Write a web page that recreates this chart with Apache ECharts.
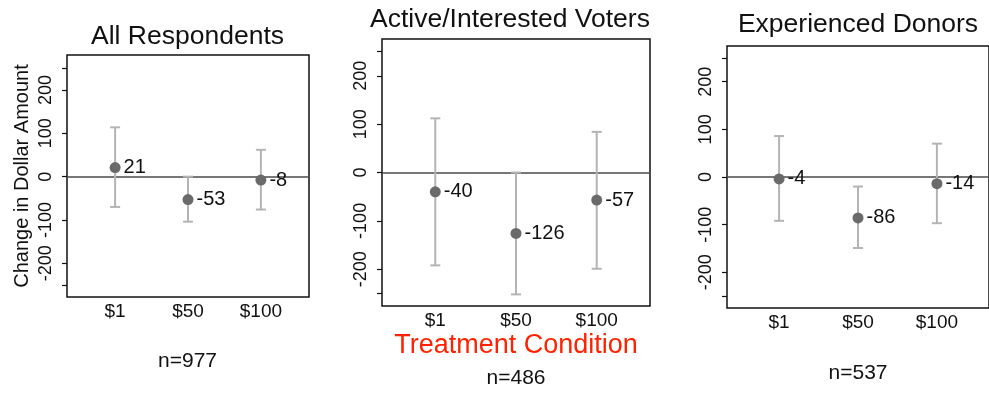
<!DOCTYPE html>
<html>
<head>
<meta charset="utf-8">
<title>Change in Dollar Amount by Treatment Condition</title>
<script src="https://cdn.jsdelivr.net/npm/echarts@6/dist/echarts.min.js"></script>
<style>
  html, body { margin: 0; padding: 0; background: #fff; }
  #main { width: 989px; height: 393px; }
</style>
</head>
<body>
<div id="main"></div>
<script>
// categories and tick labels
var categories = ['$1', '$50', '$100'];
var yTicks = [-250, -200, -100, 0, 100, 200, 250];
var yTickLabels = [-200, -100, 0, 100, 200];

// panel titles and sample sizes
var panelTitles = ['All Respondents', 'Active/Interested Voters', 'Experienced Donors'];
var sampleSizes = ['n=977', 'n=486', 'n=537'];

// estimates with confidence intervals
var allEst = [21, -53, -8];
var allLow = [-70, -104, -76];
var allHigh = [114, 0, 62];

var voterEst = [-40, -126, -57];
var voterLow = [-192, -252, -199];
var voterHigh = [112, 0, 84];

var donorEst = [-4, -86, -14];
var donorLow = [-92, -149, -97];
var donorHigh = [86, -20, 70];

var FONT = 'Liberation Sans, Arial, Helvetica, sans-serif';

// grid boxes, one per panel
var grids = [
  {left: 67, top: 55, width: 242, height: 242},
  {left: 382, top: 39, width: 268, height: 267},
  {left: 727, top: 46, width: 263, height: 262}
];
var yRanges = [[-278, 281], [-276, 276], [-275, 275]];
var panels = [
  {est: allEst, low: allLow, high: allHigh},
  {est: voterEst, low: voterLow, high: voterHigh},
  {est: donorEst, low: donorLow, high: donorHigh}
];

var option = {
  animation: false,
  backgroundColor: '#fff',
  textStyle: {fontFamily: FONT},
  grid: [],
  xAxis: [],
  yAxis: [],
  series: [],
  graphic: []
};

grids.forEach(function (g, i) {
  option.grid.push({
    left: g.left, top: g.top, width: g.width, height: g.height,
    show: true, borderColor: '#111', borderWidth: 1.5, containLabel: false
  });
  option.xAxis.push({
    type: 'value', gridIndex: i, min: 0.34, max: 3.66,
    axisLine: {show: false},
    axisTick: {show: false},
    splitLine: {show: false},
    axisLabel: {
      customValues: [1, 2, 3],
      formatter: function (v) { return categories[Math.round(v) - 1]; },
      fontSize: 19, color: '#111', margin: 5, fontFamily: FONT
    }
  });
  option.yAxis.push({
    type: 'value', gridIndex: i, min: yRanges[i][0], max: yRanges[i][1],
    name: i === 0 ? 'Change in Dollar Amount' : '',
    nameLocation: 'middle', nameGap: 35,
    nameTextStyle: {fontSize: 20, color: '#111', fontFamily: FONT},
    axisLine: {show: false},
    splitLine: {show: false},
    axisTick: {show: true, customValues: yTicks, length: 5, lineStyle: {color: '#111', width: 1.2}},
    axisLabel: {
      customValues: yTickLabels, rotate: 90, margin: 12,
      fontSize: 18, color: '#111', fontFamily: FONT
    }
  });

  var p = panels[i];
  var barData = categories.map(function (c, k) { return [k + 1, p.low[k], p.high[k]]; });
  var pointData = categories.map(function (c, k) { return [k + 1, p.est[k]]; });

  // confidence interval bars
  option.series.push({
    type: 'custom', xAxisIndex: i, yAxisIndex: i,
    data: barData,
    encode: {x: 0, y: [1, 2]},
    z: 3,
    renderItem: function (params, api) {
      var lo = api.coord([api.value(0), api.value(1)]);
      var hi = api.coord([api.value(0), api.value(2)]);
      var cap = 5;
      var st = {stroke: '#b4b4b4', lineWidth: 2};
      return {
        type: 'group',
        children: [
          {type: 'line', shape: {x1: lo[0], y1: lo[1], x2: hi[0], y2: hi[1]}, style: st},
          {type: 'line', shape: {x1: lo[0] - cap, y1: lo[1], x2: lo[0] + cap, y2: lo[1]}, style: st},
          {type: 'line', shape: {x1: hi[0] - cap, y1: hi[1], x2: hi[0] + cap, y2: hi[1]}, style: st}
        ]
      };
    }
  });

  // point estimates + zero line
  option.series.push({
    type: 'scatter', xAxisIndex: i, yAxisIndex: i,
    data: pointData,
    symbolSize: 11,
    z: 5,
    itemStyle: {color: '#6a6a6a', opacity: 1},
    label: {
      show: true, position: 'right', distance: 3,
      formatter: function (prm) { return prm.value[1]; },
      fontSize: 20, color: '#111', fontFamily: FONT
    },
    markLine: {
      silent: true, symbol: 'none', z: 2,
      label: {show: false},
      lineStyle: {color: '#4a4a4a', width: 1.5, type: 'solid'},
      data: [{yAxis: 0}]
    }
  });
});

// titles and notes
var titlePos = [[187.5, 37], [510, 20], [858, 25]];
var nPos = [[187.5, 361], [516, 378], [858, 373]];
panelTitles.forEach(function (t, i) {
  option.graphic.push({
    type: 'text', x: titlePos[i][0], y: titlePos[i][1],
    style: {text: t, textAlign: 'center', textVerticalAlign: 'middle', fill: '#111', font: '26.5px ' + FONT}
  });
  option.graphic.push({
    type: 'text', x: nPos[i][0], y: nPos[i][1],
    style: {text: sampleSizes[i], textAlign: 'center', textVerticalAlign: 'middle', fill: '#111', font: '21px ' + FONT}
  });
});
option.graphic.push({
  type: 'text', x: 516, y: 346,
  style: {text: 'Treatment Condition', textAlign: 'center', textVerticalAlign: 'middle', fill: '#ff2200', font: '27px ' + FONT}
});

var chart = echarts.init(document.getElementById('main'));
chart.setOption(option);
</script>
</body>
</html>
